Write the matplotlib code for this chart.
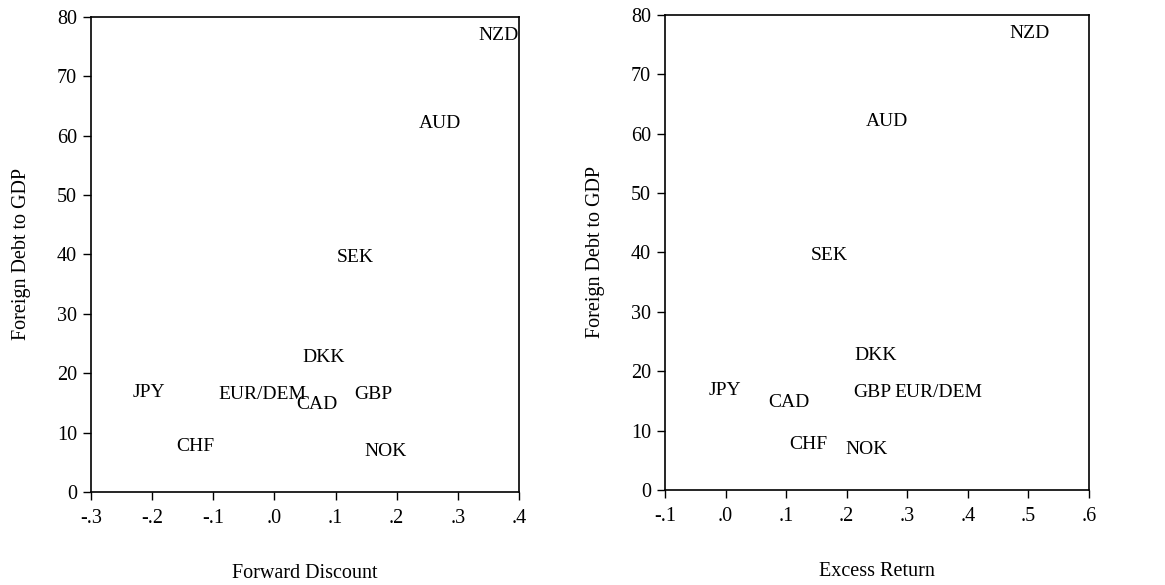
import numpy as np
import matplotlib
matplotlib.use("Agg")
import matplotlib.pyplot as plt
from matplotlib.ticker import FuncFormatter

plt.rcParams['font.family'] = ['Liberation Serif', 'DejaVu Serif']

# currency labels and values
currencies = ['NZD', 'AUD', 'SEK', 'DKK', 'JPY', 'EUR/DEM', 'CAD', 'GBP', 'CHF', 'NOK']
debt_gdp = [76.9, 62.1, 39.5, 22.6, 16.7, 16.5, 14.8, 16.4, 7.7, 6.9]
fwd_discount = [0.366, 0.271, 0.133, 0.081, -0.205, -0.020, 0.070, 0.161, -0.130, 0.181]
excess_return = [0.501, 0.267, 0.171, 0.248, -0.001, 0.351, 0.105, 0.243, 0.136, 0.233]

left_ticks = [-0.3, -0.2, -0.1, 0.0, 0.1, 0.2, 0.3, 0.4]
right_ticks = [-0.1, 0.0, 0.1, 0.2, 0.3, 0.4, 0.5, 0.6]
y_ticks = [0, 10, 20, 30, 40, 50, 60, 70, 80]


def dot_fmt(v, pos):
    # EViews style: .3, -.3, .0
    s = f'{v:.1f}'
    s = s.replace('0.', '.', 1)
    if s == '-.0':
        s = '.0'
    return s


def draw_panel(ax, xs, xticks, xlabel):
    for name, x, y in zip(currencies, xs, debt_gdp):
        ax.text(x, y, name, ha='center', va='center', fontsize=14)
    ax.set_xlim(xticks[0], xticks[-1])
    ax.set_ylim(0, 80)
    ax.set_xticks(xticks)
    ax.set_yticks(y_ticks)
    ax.xaxis.set_major_formatter(FuncFormatter(dot_fmt))
    ax.tick_params(direction='out', length=6, width=1, labelsize=14.5, pad=4)
    ax.tick_params(axis='x', pad=6)
    for sp in ax.spines.values():
        sp.set_linewidth(1.2)
    ax.set_xlabel(xlabel, fontsize=14.5, labelpad=26)
    ax.set_ylabel('Foreign Debt to GDP', fontsize=14.5, labelpad=19)


fig = plt.figure(figsize=(11.65, 5.85), dpi=100)
ax1 = fig.add_axes([0.0781, 0.159, 0.3674, 0.812])
ax2 = fig.add_axes([0.5708, 0.1624, 0.364, 0.812])

draw_panel(ax1, fwd_discount, left_ticks, 'Forward Discount')
draw_panel(ax2, excess_return, right_ticks, 'Excess Return')

fig.savefig('out.png', dpi=100)
